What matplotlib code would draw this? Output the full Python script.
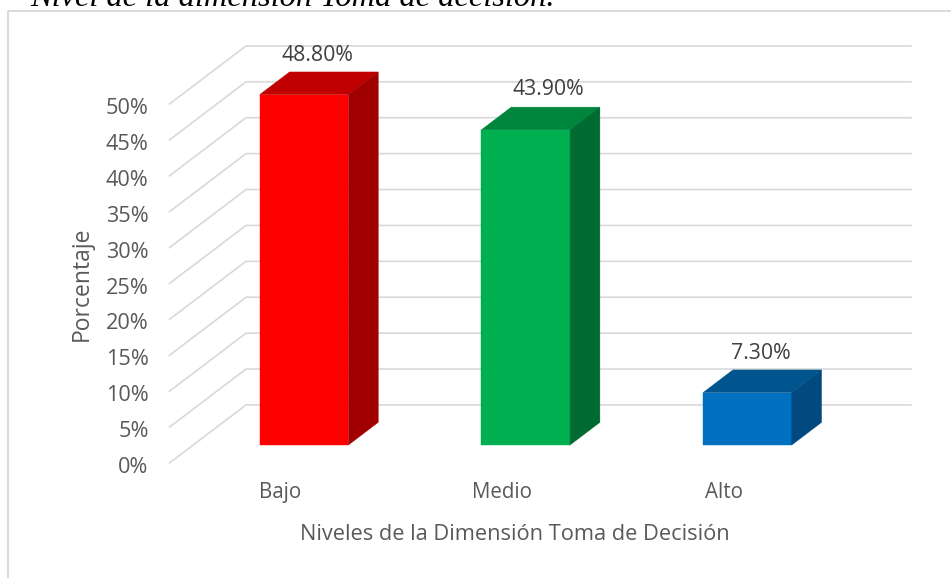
import matplotlib
matplotlib.use("Agg")
import matplotlib.pyplot as plt
from matplotlib.lines import Line2D
from matplotlib.patches import Polygon
from matplotlib.transforms import ScaledTranslation

W, H = 951, 578

categorias = ["Bajo", "Medio", "Alto"]
valores = [48.8, 43.9, 7.3]
etiquetas = ["48.80%", "43.90%", "7.30%"]
ticks_y = [0, 5, 10, 15, 20, 25, 30, 35, 40, 45, 50]
ticks_y_labels = ["0%", "5%", "10%", "15%", "20%", "25%", "30%", "35%", "40%", "45%", "50%"]

col_frente = ["#FF0000", "#00B050", "#0070C0"]
col_tapa = ["#C00000", "#00853D", "#00558F"]
col_lado = ["#A00000", "#006B30", "#004A80"]
col_grid = "#D9D9D9"
col_texto = "#595959"

# depth of the 3D box, in data units (one depth = full floor)
prof_x = 76.5 / 221.6
prof_y = 58 / 7.17
d0, d1 = 0.31, 0.70
ancho = 0.4
# the labels were moved by hand in the original, pixels
ajuste_x = [-2, 8, -1]
ajuste_y = [28, 29, 27.5]


def proj(x, v, d):
    return x + d * prof_x, v + d * prof_y


plt.rcParams["font.family"] = ["Open Sans", "DejaVu Sans"]
fig = plt.figure(figsize=(W / 100, H / 100), dpi=100)
# front plane of the chart: 169.5..834.5 px wide, 0% at y=463 and 50% at y=104
ax = fig.add_axes([169.5 / W, 1 - 463 / H, 665 / W, 359 / H])
ax.set_xlim(-0.5, 2.5)
ax.set_ylim(0, 50)
for s in ax.spines.values():
    s.set_visible(False)
ax.patch.set_visible(False)

# wall and floor lines
for t in ticks_y:
    xs = [-0.5, proj(-0.5, t, 1)[0], proj(2.5, t, 1)[0]]
    ys = [t, proj(-0.5, t, 1)[1], proj(2.5, t, 1)[1]]
    ax.plot(xs, ys, color=col_grid, lw=1.2, clip_on=False, zorder=1)

# bars
for i, v in enumerate(valores):
    l, r = i - ancho / 2 + 0, i + ancho / 2
    caras = [
        ([proj(l, 0, d0), proj(r, 0, d0), proj(r, v, d0), proj(l, v, d0)], col_frente[i]),
        ([proj(l, v, d0), proj(r, v, d0), proj(r, v, d1), proj(l, v, d1)], col_tapa[i]),
        ([proj(r, 0, d0), proj(r, 0, d1), proj(r, v, d1), proj(r, v, d0)], col_lado[i]),
    ]
    for pts, c in caras:
        ax.add_patch(Polygon(pts, closed=True, facecolor=c, edgecolor=c, lw=0.3,
                             clip_on=False, zorder=3))
    ax.annotate(etiquetas[i], proj(i, v, (d0 + d1) / 2),
                xytext=(ajuste_x[i] * 0.72, ajuste_y[i] * 0.72), textcoords="offset points",
                ha="center", va="center", fontsize=15.3,
                color="#404040", annotation_clip=False, zorder=4)

ax.set_xticks(range(len(categorias)))
ax.set_xticklabels(categorias, fontsize=14.8, color=col_texto)
ax.set_yticks(ticks_y)
ax.set_yticklabels(ticks_y_labels, fontsize=15.6, color=col_texto)
ax.tick_params(axis="x", length=0, pad=14)
ax.tick_params(axis="y", length=0, pad=15)
for lab in ax.get_yticklabels():
    lab.set_transform(lab.get_transform() + ScaledTranslation(0, -2 / 100, fig.dpi_scale_trans))

fig.text(515 / W, 1 - 534 / H, "Niveles de la Dimensión Toma de Decisión",
         ha="center", va="center", fontsize=15.7, color=col_texto)
fig.text(82 / W, 1 - 283.5 / H, "Porcentaje", rotation=90,
         ha="center", va="center", fontsize=16.5, color=col_texto)

# chart frame, only left and top edges are inside the crop
fig.add_artist(Line2D([8 / W, 8 / W, 1], [0, 1 - 11 / H, 1 - 11 / H],
                      color=col_grid, lw=1.4))

fig.text(30 / W, 1 + 1.5 / H, "Nivel de la dimensión Toma de decisión.",
         ha="left", va="center", fontsize=23.4, style="italic",
         family="Liberation Serif", color="black")

fig.savefig("out.png", dpi=100)
